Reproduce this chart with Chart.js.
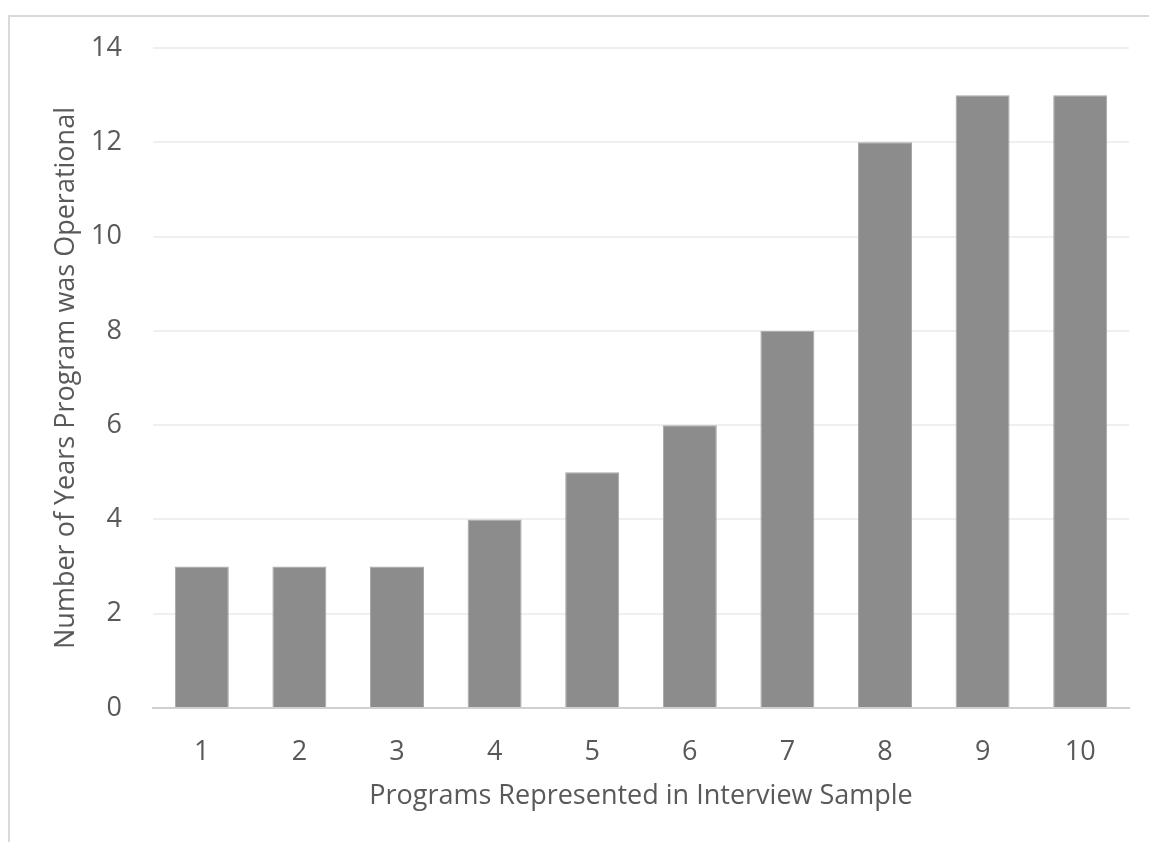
<!DOCTYPE html>
<html>
<head>
<meta charset="utf-8">
<script src="https://cdn.jsdelivr.net/npm/chart.js@4.4.1/dist/chart.umd.min.js"></script>
<style>
    html, body { margin: 0; padding: 0; background: #fff; overflow: hidden; }
    #frame {
        position: absolute; left: 8px; top: 15px;
        width: 1200px; height: 900px;
        border: 2px solid #d9d9d9;
    }
    #wrap { position: absolute; left: 0; top: 0; width: 1149px; height: 842px; }
</style>
</head>
<body>
<div id="frame"></div>
<div id="wrap"><canvas id="chart"></canvas></div>
<script>
const programs = ["1", "2", "3", "4", "5", "6", "7", "8", "9", "10"];
const yearsOperational = [3, 3, 3, 4, 5, 6, 8, 12, 13, 13];
const yTicks = [0, 2, 4, 6, 8, 10, 12, 14];

const textColor = "#595959";
const font = "'Open Sans', 'Liberation Sans', sans-serif";

const ctx = document.getElementById("chart").getContext("2d");

new Chart(ctx, {
    type: "bar",
    data: {
        labels: programs,
        datasets: [
            {
                label: "Years",
                data: yearsOperational,
                backgroundColor: "#8c8c8c",
                borderColor: "#a6a6a6",
                borderWidth: 1,
                barPercentage: 0.553,
                categoryPercentage: 1,
            },
        ],
    },
    options: {
        responsive: true,
        maintainAspectRatio: false,
        animation: false,
        layout: { padding: { top: 48, right: 20, bottom: 25, left: 46 } },
        scales: {
            x: {
                grid: { display: false, drawTicks: false },
                border: { display: true, color: "#d0d0d0", width: 2 },
                ticks: {
                    color: textColor,
                    padding: 28,
                    font: { family: font, size: 27 },
                },
                title: {
                    display: true,
                    text: "Programs Represented in Interview Sample",
                    color: textColor,
                    font: { family: font, size: 27 },
                    padding: 4,
                },
                afterFit: (s) => { s.height = 109; },
            },
            y: {
                min: yTicks[0],
                max: yTicks[yTicks.length - 1],
                afterBuildTicks: (s) => { s.ticks = yTicks.map((v) => ({ value: v })); },
                grid: { color: "#efefef", lineWidth: 2, drawTicks: false },
                border: { display: false },
                ticks: {
                    color: textColor,
                    padding: 31,
                    font: { family: font, size: 27 },
                },
                title: {
                    display: true,
                    text: "Number of Years Program was Operational",
                    color: textColor,
                    font: { family: font, size: 27 },
                    padding: 4,
                },
                afterFit: (s) => { s.width = 107; },
            },
        },
        plugins: {
            legend: { display: false },
            tooltip: { enabled: false },
        },
    },
});
</script>
</body>
</html>
